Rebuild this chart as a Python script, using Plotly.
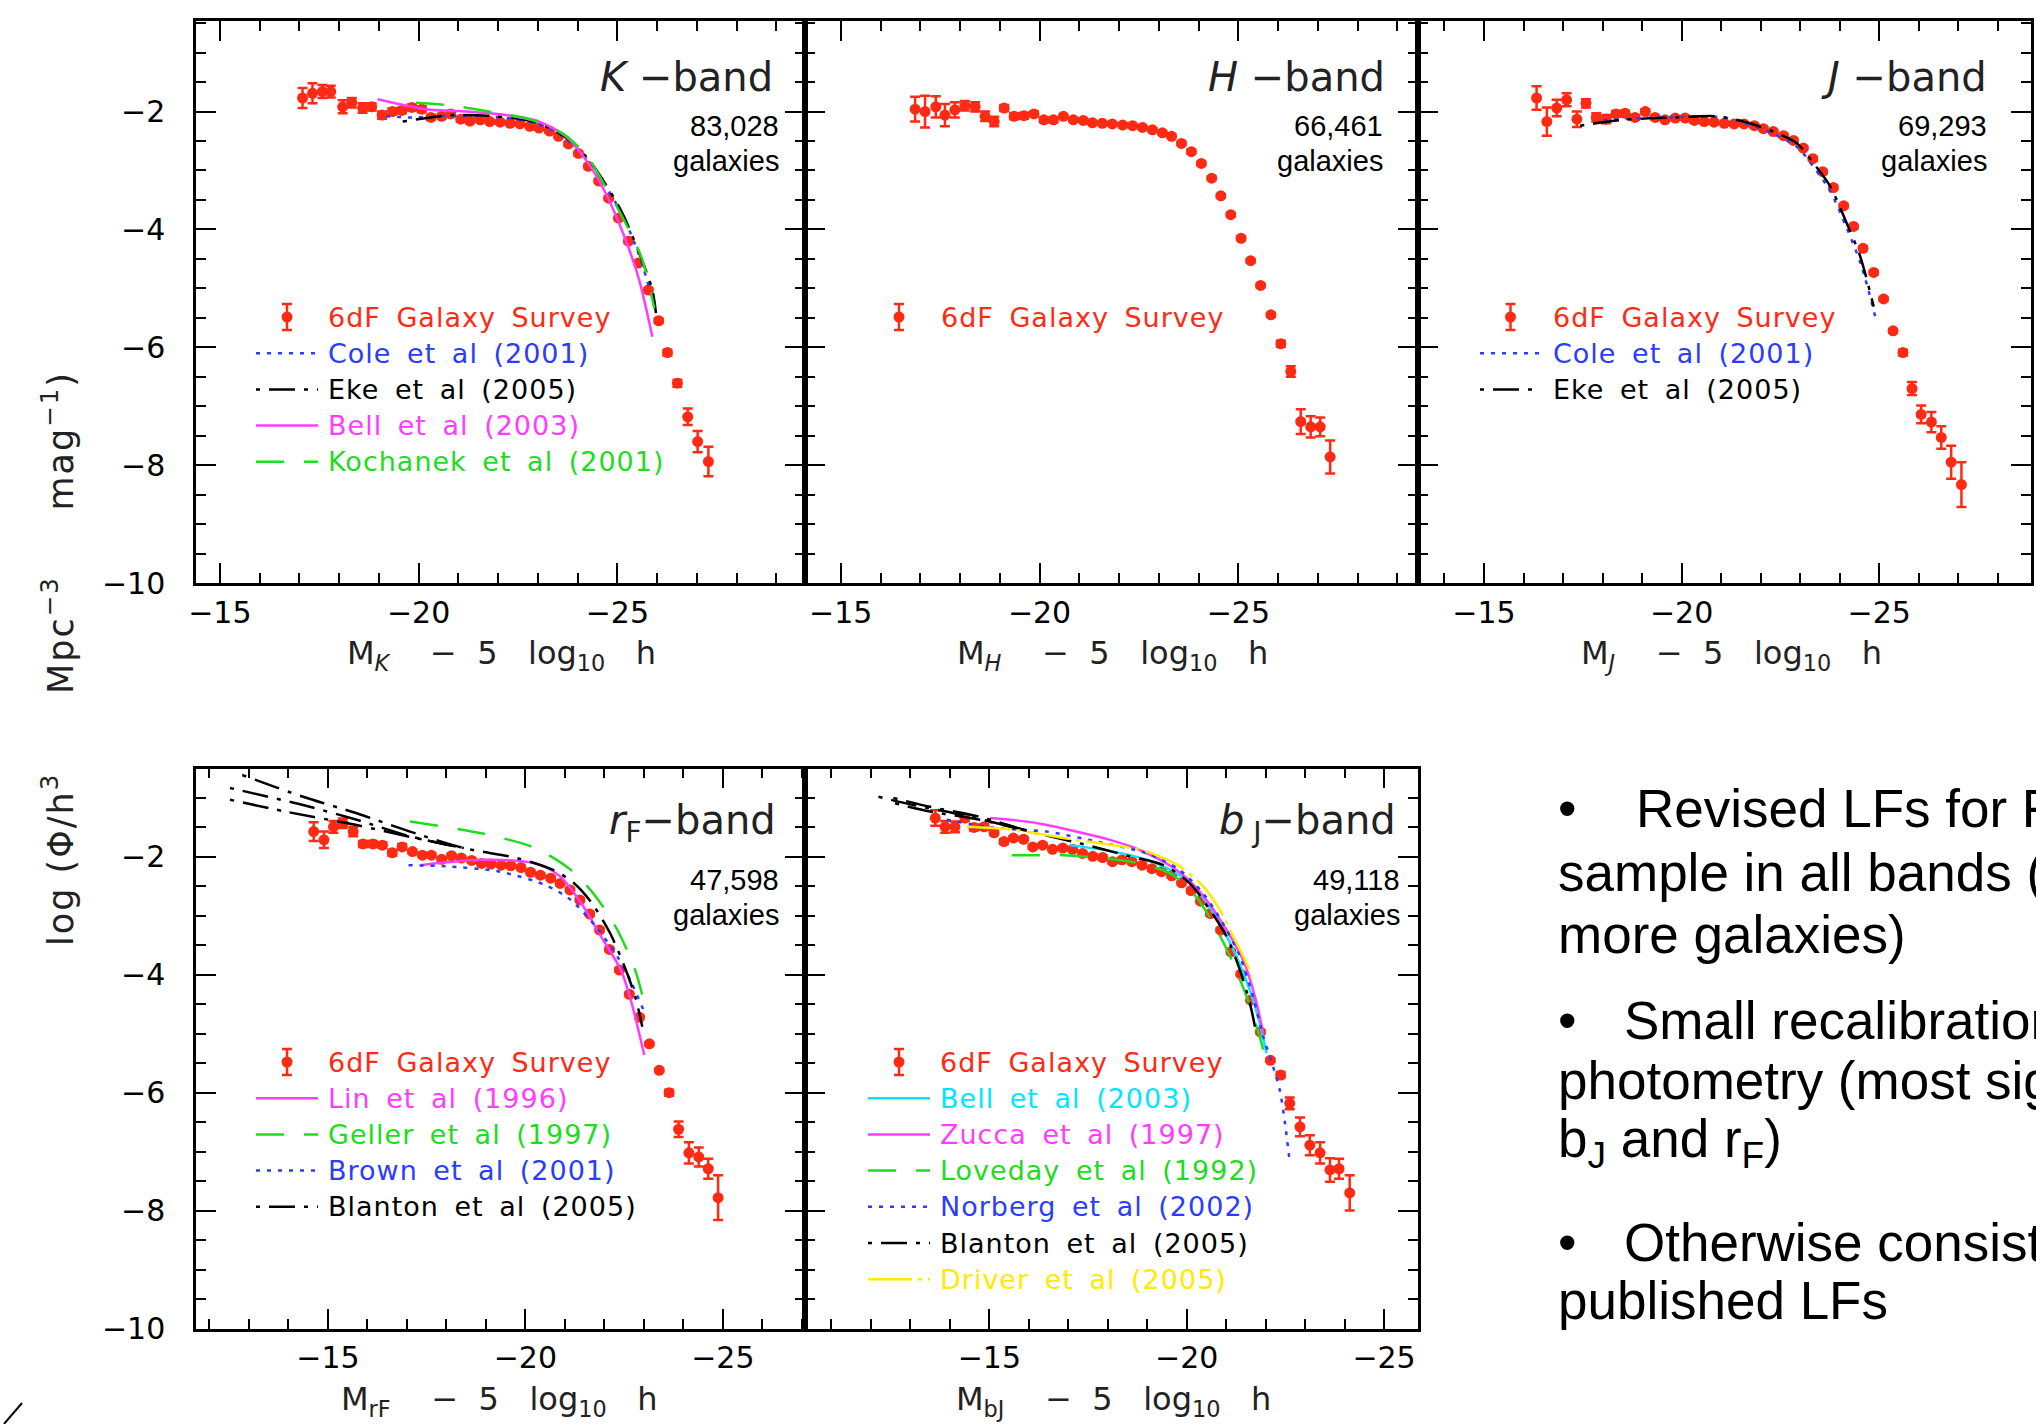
import plotly.graph_objects as go

W, H = 2036, 1424

RED = "#ff2a14"
BLUE = "#2a3cff"
MAGENTA = "#ff3cff"
GREEN = "#1edc1e"
CYAN = "#00e6ff"
YELLOW = "#ffea00"
BLACK = "#000000"

DOT = "4px,7px"
DASHDOT = "4px,9px,26px,9px"
LONGDASH = "28px,20px"
DASHDOTDOT = "44px,6px,4px,6px"
SOLID = "solid"

# ---------------- K band ----------------
K_MAG = [-17.08, -17.33, -17.58, -17.79, -18.09, -18.32, -18.59, -18.82, -19.08, -19.34,
         -19.58, -19.83, -20.08, -20.31, -20.58, -20.81, -21.06, -21.29, -21.55, -21.79,
         -22.05, -22.30, -22.55, -22.80, -23.03, -23.29, -23.52, -23.77, -24.02, -24.27,
         -24.53, -24.78, -25.03, -25.28, -25.53, -25.78, -26.04, -26.26, -26.51, -26.77,
         -27.02, -27.29]
K_LOGPHI = [-1.77, -1.69, -1.66, -1.66, -1.92, -1.85, -1.94, -1.92, -2.06, -2.00,
            -1.98, -1.93, -1.96, -2.10, -2.08, -2.04, -2.13, -2.16, -2.14, -2.17,
            -2.18, -2.20, -2.21, -2.25, -2.28, -2.33, -2.42, -2.55, -2.71, -2.93,
            -3.18, -3.47, -3.81, -4.20, -4.57, -5.03, -5.55, -6.09, -6.61, -7.18,
            -7.60, -7.94]
K_ERR = [0.17, 0.17, 0.11, 0.10, 0.11, 0.08, 0.08, 0.06, 0.06, 0.05,
         0.05, 0.05, 0.05, 0.04, 0.04, 0.04, 0.04, 0.04, 0.03, 0.03,
         0.03, 0.03, 0.03, 0.03, 0.03, 0.03, 0.03, 0.03, 0.03, 0.03,
         0.03, 0.03, 0.03, 0.03, 0.03, 0.03, 0.04, 0.05, 0.06, 0.14,
         0.18, 0.25]

K_COLE_MAG = [-19.18, -19.85, -20.8, -21.9, -22.85, -23.6, -24.2, -24.7, -25.13, -25.55, -25.95]
K_COLE_LOGPHI = [-2.08, -2.10, -2.07, -2.09, -2.18, -2.41, -2.78, -3.26, -3.76, -4.44, -5.35]
K_EKE_MAG = [-19.6, -20.85, -21.94, -22.87, -23.62, -24.21, -24.71, -25.13, -25.55, -25.88, -25.97]
K_EKE_LOGPHI = [-2.17, -2.06, -2.08, -2.17, -2.40, -2.76, -3.24, -3.73, -4.40, -5.03, -5.42]
K_BELL_MAG = [-18.97, -20.18, -21.19, -22.2, -23.03, -23.7, -24.21, -24.71, -25.21, -25.55, -25.88]
K_BELL_LOGPHI = [-1.79, -1.96, -2.00, -2.06, -2.17, -2.42, -2.82, -3.39, -4.18, -4.86, -5.82]
K_KOCH_MAG = [-19.93, -20.85, -21.94, -22.78, -23.62, -24.21, -24.71, -25.21, -25.63, -25.93]
K_KOCH_LOGPHI = [-1.85, -1.90, -2.02, -2.13, -2.37, -2.74, -3.28, -3.90, -4.52, -5.34]

# ---------------- H band ----------------
H_MAG = [-16.87, -17.12, -17.39, -17.62, -17.87, -18.12, -18.38, -18.63, -18.86, -19.11,
         -19.36, -19.61, -19.86, -20.11, -20.35, -20.60, -20.85, -21.10, -21.33, -21.58,
         -21.83, -22.09, -22.34, -22.59, -22.84, -23.09, -23.32, -23.57, -23.82, -24.07,
         -24.33, -24.56, -24.81, -25.07, -25.31, -25.56, -25.82, -26.07, -26.32, -26.57,
         -26.82, -27.06, -27.31]
H_LOGPHI = [-1.96, -2.00, -1.92, -2.06, -1.97, -1.90, -1.92, -2.08, -2.17, -1.94,
            -2.08, -2.07, -2.04, -2.14, -2.14, -2.08, -2.14, -2.15, -2.19, -2.20,
            -2.21, -2.23, -2.24, -2.27, -2.31, -2.36, -2.42, -2.54, -2.68, -2.88,
            -3.13, -3.43, -3.75, -4.15, -4.53, -4.95, -5.45, -5.94, -6.41, -7.26,
            -7.35, -7.35, -7.86]
H_ERR = [0.21, 0.27, 0.18, 0.19, 0.13, 0.08, 0.08, 0.08, 0.08, 0.05,
         0.05, 0.05, 0.04, 0.04, 0.04, 0.03, 0.03, 0.03, 0.03, 0.03,
         0.03, 0.03, 0.03, 0.03, 0.03, 0.03, 0.03, 0.03, 0.03, 0.03,
         0.03, 0.03, 0.03, 0.03, 0.03, 0.03, 0.03, 0.05, 0.09, 0.21,
         0.18, 0.16, 0.28]

# ---------------- J band ----------------
J_MAG = [-16.33, -16.59, -16.84, -17.09, -17.35, -17.58, -17.84, -18.09, -18.34, -18.57,
         -18.82, -19.08, -19.33, -19.58, -19.84, -20.09, -20.32, -20.57, -20.82, -21.08,
         -21.33, -21.58, -21.84, -22.07, -22.32, -22.58, -22.83, -23.08, -23.32, -23.57,
         -23.84, -24.10, -24.35, -24.59, -24.86, -25.11, -25.35, -25.60, -25.83, -26.06,
         -26.32, -26.57, -26.82, -27.08]
J_LOGPHI = [-1.77, -2.17, -1.94, -1.80, -2.13, -1.86, -2.10, -2.13, -2.04, -2.03,
            -2.10, -2.00, -2.10, -2.14, -2.11, -2.11, -2.15, -2.17, -2.18, -2.20,
            -2.21, -2.21, -2.24, -2.29, -2.34, -2.41, -2.49, -2.62, -2.80, -3.02,
            -3.29, -3.60, -3.95, -4.32, -4.73, -5.18, -5.72, -6.09, -6.70, -7.14,
            -7.27, -7.53, -7.95, -8.33]
J_ERR = [0.20, 0.24, 0.14, 0.11, 0.13, 0.07, 0.07, 0.07, 0.05, 0.05,
         0.04, 0.04, 0.03, 0.03, 0.03, 0.03, 0.03, 0.03, 0.03, 0.03,
         0.03, 0.03, 0.03, 0.03, 0.03, 0.03, 0.03, 0.03, 0.03, 0.03,
         0.03, 0.03, 0.03, 0.03, 0.03, 0.03, 0.03, 0.05, 0.11, 0.15,
         0.17, 0.19, 0.28, 0.38]

J_COLE_MAG = [-18.02, -19.0, -20.0, -20.9, -21.6, -22.32, -22.92, -23.34, -23.76, -24.18, -24.55, -24.94]
J_COLE_LOGPHI = [-2.15, -2.11, -2.09, -2.09, -2.19, -2.38, -2.60, -2.94, -3.35, -3.98, -4.62, -5.59]
J_EKE_MAG = [-17.43, -18.53, -19.79, -20.89, -21.56, -22.32, -22.92, -23.34, -23.76, -24.18, -24.52, -24.86]
J_EKE_LOGPHI = [-2.24, -2.14, -2.10, -2.08, -2.17, -2.34, -2.54, -2.88, -3.27, -3.90, -4.46, -5.31]

# ---------------- rF band ----------------
RF_MAG = [-14.64, -14.90, -15.14, -15.38, -15.64, -15.89, -16.14, -16.38, -16.63, -16.88,
          -17.14, -17.39, -17.62, -17.88, -18.13, -18.38, -18.64, -18.89, -19.13, -19.39,
          -19.63, -19.89, -20.13, -20.38, -20.64, -20.88, -21.13, -21.38, -21.63, -21.88,
          -22.13, -22.38, -22.63, -22.89, -23.14, -23.39, -23.64, -23.88, -24.14, -24.39,
          -24.63, -24.88]
RF_LOGPHI = [-1.57, -1.71, -1.49, -1.43, -1.57, -1.78, -1.78, -1.80, -1.93, -1.83,
             -1.91, -1.97, -1.97, -2.04, -1.98, -2.02, -2.06, -2.11, -2.12, -2.14,
             -2.15, -2.18, -2.26, -2.31, -2.36, -2.45, -2.56, -2.73, -2.97, -3.24,
             -3.57, -3.92, -4.33, -4.72, -5.17, -5.62, -6.00, -6.62, -7.02, -7.09,
             -7.29, -7.78]
RF_ERR = [0.16, 0.14, 0.10, 0.08, 0.08, 0.05, 0.05, 0.05, 0.05, 0.05,
          0.03, 0.03, 0.03, 0.03, 0.03, 0.03, 0.03, 0.03, 0.03, 0.03,
          0.03, 0.03, 0.03, 0.03, 0.03, 0.03, 0.03, 0.03, 0.03, 0.03,
          0.03, 0.03, 0.03, 0.03, 0.03, 0.03, 0.05, 0.13, 0.18, 0.16,
          0.17, 0.38]

RF_BLANTON_A_MAG = [-12.83, -14.37, -15.73, -17.08, -18.44, -19.79, -20.70, -21.24, -21.69, -22.15, -22.51, -22.78, -22.96]
RF_BLANTON_A_LOGPHI = [-0.61, -0.98, -1.26, -1.57, -1.85, -2.02, -2.22, -2.45, -2.79, -3.30, -3.86, -4.37, -4.88]
RF_BLANTON_B_MAG = [-12.52, -14.37, -15.73, -17.08, -18.44]
RF_BLANTON_B_LOGPHI = [-0.83, -1.12, -1.37, -1.65, -1.85]
RF_BLANTON_C_MAG = [-12.52, -13.92, -15.73, -17.08, -18.44]
RF_BLANTON_C_LOGPHI = [-1.03, -1.23, -1.46, -1.66, -1.85]
RF_GELLER_MAG = [-17.08, -18.89, -20.25, -21.15, -21.78, -22.33, -22.78, -23.01]
RF_GELLER_LOGPHI = [-1.40, -1.60, -1.85, -2.22, -2.67, -3.24, -3.92, -4.48]
RF_LIN_MAG = [-17.35, -18.89, -20.25, -20.88, -21.42, -21.97, -22.42, -22.69, -23.01]
RF_LIN_LOGPHI = [-2.14, -2.05, -2.11, -2.33, -2.79, -3.41, -3.92, -4.48, -5.36]
RF_BROWN_MAG = [-17.04, -17.99, -19.35, -20.52, -21.15, -21.78, -22.33, -22.69, -23.01]
RF_BROWN_LOGPHI = [-2.14, -2.16, -2.25, -2.48, -2.73, -3.18, -3.69, -4.14, -4.63]

# ---------------- bJ band ----------------
BJ_MAG = [-13.63, -13.88, -14.13, -14.38, -14.61, -14.87, -15.12, -15.37, -15.61, -15.87,
          -16.10, -16.35, -16.60, -16.86, -17.11, -17.36, -17.62, -17.87, -18.12, -18.36,
          -18.61, -18.87, -19.12, -19.36, -19.62, -19.87, -20.11, -20.35, -20.60, -20.86,
          -21.12, -21.37, -21.62, -21.87, -22.12, -22.38, -22.61, -22.87, -23.12, -23.38,
          -23.63, -23.86, -24.13]
BJ_LOGPHI = [-1.34, -1.49, -1.49, -1.34, -1.50, -1.49, -1.59, -1.74, -1.68, -1.70,
             -1.83, -1.80, -1.87, -1.85, -1.87, -1.94, -1.99, -2.01, -2.08, -2.05,
             -2.08, -2.14, -2.20, -2.25, -2.32, -2.44, -2.57, -2.75, -2.96, -3.24,
             -3.61, -3.99, -4.43, -4.97, -5.45, -5.70, -6.18, -6.58, -6.89, -7.02,
             -7.31, -7.29, -7.70]
BJ_ERR = [0.13, 0.10, 0.09, 0.05, 0.05, 0.05, 0.04, 0.04, 0.03, 0.03,
          0.03, 0.03, 0.03, 0.03, 0.03, 0.03, 0.03, 0.03, 0.03, 0.03,
          0.03, 0.03, 0.03, 0.03, 0.03, 0.03, 0.03, 0.03, 0.03, 0.03,
          0.03, 0.03, 0.03, 0.03, 0.03, 0.05, 0.10, 0.16, 0.17, 0.18,
          0.20, 0.17, 0.30]

BJ_BLANTON_A_MAG = [-12.57, -13.5, -14.76, -16.03, -17.3, -18.56, -19.41, -20.08, -20.59, -21.01, -21.35, -21.6, -21.73]
BJ_BLANTON_A_LOGPHI = [-1.00, -1.15, -1.32, -1.57, -1.77, -1.99, -2.14, -2.45, -2.90, -3.35, -3.92, -4.48, -4.88]
BJ_BLANTON_B_MAG = [-12.19, -13.08, -14.34, -16.03]
BJ_BLANTON_B_LOGPHI = [-0.98, -1.12, -1.29, -1.57]
BJ_BLANTON_C_MAG = [-12.61, -13.5, -14.76, -16.03]
BJ_BLANTON_C_LOGPHI = [-1.09, -1.23, -1.37, -1.57]
BJ_ZUCCA_MAG = [-15.02, -15.69, -16.33, -18.06, -18.65, -19.41, -20.0, -20.5, -21.01, -21.43, -21.73, -21.94]
BJ_ZUCCA_LOGPHI = [-1.34, -1.38, -1.44, -1.71, -1.84, -2.08, -2.36, -2.73, -3.24, -3.75, -4.37, -4.99]
BJ_BELL_MAG = [-17.04, -18.14, -18.99, -19.82, -20.33, -20.84, -21.26, -21.6, -21.85, -22.02]
BJ_BELL_LOGPHI = [-1.80, -1.91, -2.05, -2.31, -2.62, -3.13, -3.69, -4.26, -4.82, -5.33]
BJ_LOVEDAY_MAG = [-15.57, -16.28, -16.88, -17.72, -18.73, -19.58, -20.17, -20.68, -21.1, -21.52, -21.85, -21.98]
BJ_LOVEDAY_LOGPHI = [-1.97, -1.97, -1.97, -2.01, -2.10, -2.28, -2.62, -3.13, -3.69, -4.37, -5.05, -5.39]
BJ_NORBERG_MAG = [-13.92, -15.19, -16.45, -17.72, -18.99, -19.82, -20.42, -20.92, -21.35, -21.68, -21.94, -22.19, -22.36, -22.49, -22.61]
BJ_NORBERG_LOGPHI = [-1.37, -1.51, -1.57, -1.74, -1.94, -2.22, -2.62, -3.13, -3.69, -4.37, -5.05, -5.56, -5.96, -6.52, -7.17]
BJ_DRIVER_MAG = [-14.43, -15.61, -16.87, -18.14, -18.99, -19.82, -20.42, -20.84, -21.18, -21.48, -21.65]
BJ_DRIVER_LOGPHI = [-1.49, -1.54, -1.68, -1.80, -1.91, -2.16, -2.50, -2.90, -3.35, -3.75, -4.03]

# galaxy counts and band labels
BAND_LABELS = {"K": "<i>K</i> \u2212band", "H": "<i>H</i> \u2212band", "J": "<i>J</i> \u2212band",
               "rF": "<i>r</i><sub>F</sub>\u2212band", "bJ": "<i>b</i><sub> J</sub>\u2212band"}
GALAXY_COUNTS = {"K": "83,028", "H": "66,461", "J": "69,293", "rF": "47,598", "bJ": "49,118"}
NB = "&nbsp;"
TITLE_TAIL = NB * 2 + "5" + NB * 3 + "log<sub>10</sub>" + NB * 3 + "h"
X_TITLES = {
    "K": "M<sub><i>K</i></sub>" + NB * 4 + "\u2212" + TITLE_TAIL,
    "H": "M<sub><i>H</i></sub>" + NB * 4 + "\u2212" + TITLE_TAIL,
    "J": "M<sub><i>J</i></sub>" + NB * 4 + "\u2212" + TITLE_TAIL,
    "rF": "M<sub>rF</sub>" + NB * 4 + "\u2212" + TITLE_TAIL,
    "bJ": "M<sub>bJ</sub>" + NB * 4 + "\u2212" + TITLE_TAIL,
}
Y_TITLE = ("log (\u03a6/h<sup>3</sup>" + NB * 6 + "Mpc<sup>\u22123</sup>"
           + NB * 5 + "mag<sup>\u22121</sup>)")

BULLETS = [
    ["Revised LFs for F", "sample in all bands (", "more galaxies)"],
    ["Small recalibration", "photometry (most sig", "b<sub>J</sub> and r<sub>F</sub>)"],
    ["Otherwise consist", "published LFs"],
]

SURVEY = "6dF Galaxy Survey"


def xp(v):
    return v / W


def yp(v):
    return 1 - v / H


# panel geometry in pixels (x0, x1, y0, y1) and axis ranges
PANELS = {
    "K": dict(n="", box=(196, 805, 21.4, 583), xr=[-14.4, -29.72], yr=[-10, -0.47], ylab=True),
    "H": dict(n="2", box=(805, 1418, 21.4, 583), xr=[-14.1, -29.52], yr=[-10, -0.47], ylab=False),
    "J": dict(n="3", box=(1418, 2031, 21.4, 583), xr=[-13.33, -28.84], yr=[-10, -0.47], ylab=False),
    "rF": dict(n="4", box=(196, 805, 768.5, 1328.5), xr=[-11.66, -27.08], yr=[-10, -0.5], ylab=True),
    "bJ": dict(n="5", box=(805, 1418, 768.5, 1328.5), xr=[-10.33, -25.86], yr=[-10, -0.5], ylab=False),
}

DATA = {
    "K": (K_MAG, K_LOGPHI, K_ERR),
    "H": (H_MAG, H_LOGPHI, H_ERR),
    "J": (J_MAG, J_LOGPHI, J_ERR),
    "rF": (RF_MAG, RF_LOGPHI, RF_ERR),
    "bJ": (BJ_MAG, BJ_LOGPHI, BJ_ERR),
}

CURVES = {
    "K": [(K_COLE_MAG, K_COLE_LOGPHI, BLUE, DOT),
          (K_EKE_MAG, K_EKE_LOGPHI, BLACK, DASHDOT),
          (K_BELL_MAG, K_BELL_LOGPHI, MAGENTA, SOLID),
          (K_KOCH_MAG, K_KOCH_LOGPHI, GREEN, LONGDASH)],
    "H": [],
    "J": [(J_COLE_MAG, J_COLE_LOGPHI, BLUE, DOT),
          (J_EKE_MAG, J_EKE_LOGPHI, BLACK, DASHDOT)],
    "rF": [(RF_LIN_MAG, RF_LIN_LOGPHI, MAGENTA, SOLID),
           (RF_GELLER_MAG, RF_GELLER_LOGPHI, GREEN, LONGDASH),
           (RF_BROWN_MAG, RF_BROWN_LOGPHI, BLUE, DOT),
           (RF_BLANTON_A_MAG, RF_BLANTON_A_LOGPHI, BLACK, DASHDOT),
           (RF_BLANTON_B_MAG, RF_BLANTON_B_LOGPHI, BLACK, DASHDOT),
           (RF_BLANTON_C_MAG, RF_BLANTON_C_LOGPHI, BLACK, DASHDOT)],
    "bJ": [(BJ_BELL_MAG, BJ_BELL_LOGPHI, CYAN, SOLID),
           (BJ_ZUCCA_MAG, BJ_ZUCCA_LOGPHI, MAGENTA, SOLID),
           (BJ_LOVEDAY_MAG, BJ_LOVEDAY_LOGPHI, GREEN, LONGDASH),
           (BJ_NORBERG_MAG, BJ_NORBERG_LOGPHI, BLUE, DOT),
           (BJ_BLANTON_A_MAG, BJ_BLANTON_A_LOGPHI, BLACK, DASHDOT),
           (BJ_BLANTON_B_MAG, BJ_BLANTON_B_LOGPHI, BLACK, DASHDOT),
           (BJ_BLANTON_C_MAG, BJ_BLANTON_C_LOGPHI, BLACK, DASHDOT),
           (BJ_DRIVER_MAG, BJ_DRIVER_LOGPHI, YELLOW, DASHDOTDOT)],
}

# legend entries: (label, colour, dash or None for the survey points)
LEGENDS = {
    "K": dict(sx=(256, 318), tx=326, y0=317, entries=[
        (SURVEY, RED, None), ("Cole et al (2001)", BLUE, DOT), ("Eke et al (2005)", BLACK, DASHDOT),
        ("Bell et al (2003)", MAGENTA, SOLID), ("Kochanek et al (2001)", GREEN, LONGDASH)]),
    "H": dict(sx=(868, 930), tx=939, y0=317, entries=[(SURVEY, RED, None)]),
    "J": dict(sx=(1480, 1541), tx=1551, y0=317, entries=[
        (SURVEY, RED, None), ("Cole et al (2001)", BLUE, DOT), ("Eke et al (2005)", BLACK, DASHDOT)]),
    "rF": dict(sx=(256, 318), tx=326, y0=1062, entries=[
        (SURVEY, RED, None), ("Lin et al (1996)", MAGENTA, SOLID), ("Geller et al (1997)", GREEN, LONGDASH),
        ("Brown et al (2001)", BLUE, DOT), ("Blanton et al (2005)", BLACK, DASHDOT)]),
    "bJ": dict(sx=(868, 930), tx=938, y0=1062, entries=[
        (SURVEY, RED, None), ("Bell et al (2003)", CYAN, SOLID), ("Zucca et al (1997)", MAGENTA, SOLID),
        ("Loveday et al (1992)", GREEN, LONGDASH), ("Norberg et al (2002)", BLUE, DOT),
        ("Blanton et al (2005)", BLACK, DASHDOT), ("Driver et al (2005)", YELLOW, DASHDOTDOT)]),
}
LEGEND_STEP = 36.2

# label anchor positions (px): band label right edge, count right edge, title centre
LABEL_POS = {
    "K": dict(bx=775, by=77, cx=781, cy=126, gy=161, tx=501, ty=655),
    "H": dict(bx=1387, by=77, cx=1385, cy=126, gy=161, tx=1112, ty=655),
    "J": dict(bx=1989, by=77, cx=1989, cy=126, gy=161, tx=1731, ty=655),
    "rF": dict(bx=778, by=823, cx=781, cy=880, gy=915, tx=499, ty=1401),
    "bJ": dict(bx=1398, by=823, cx=1402, cy=880, gy=915, tx=1113, ty=1401),
}

TICKFONT = dict(family="DejaVu Sans", size=30, color="black")
IDL_FONT = "DejaVu Sans"
ARIAL = "Liberation Sans, Arial, sans-serif"
LEGEND_STYLE = "letter-spacing:1px;word-spacing:6px"

fig = go.Figure()
layout = dict(width=W, height=H, margin=dict(l=0, r=0, t=0, b=0, pad=0), autosize=False,
              paper_bgcolor="white", plot_bgcolor="white", showlegend=False)
shapes = []
annotations = []

for key, p in PANELS.items():
    n = p["n"]
    x0, x1, y0, y1 = p["box"]
    xa, ya = "x" + n, "y" + n
    layout["xaxis" + n] = dict(
        domain=[xp(x0), xp(x1)], range=p["xr"], anchor=ya, automargin=False,
        showline=True, linecolor="black", linewidth=2.5, mirror="ticks",
        ticks="inside", ticklen=20, tickwidth=2, tickcolor="black",
        tickmode="linear", tick0=0, dtick=5, ticklabelstandoff=1,
        minor=dict(ticks="inside", ticklen=10, tickwidth=2, tickcolor="black", tick0=0, dtick=1),
        showgrid=False, zeroline=False, tickfont=TICKFONT,
    )
    layout["yaxis" + n] = dict(
        domain=[yp(y1), yp(y0)], range=p["yr"], anchor=xa, automargin=False,
        showline=True, linecolor="black", linewidth=2.5, mirror="ticks",
        ticks="inside", ticklen=20, tickwidth=2, tickcolor="black",
        tickmode="linear", tick0=0, dtick=2, ticklabelstandoff=22,
        minor=dict(ticks="inside", ticklen=10, tickwidth=2, tickcolor="black", tick0=0, dtick=0.5),
        showgrid=False, zeroline=False, tickfont=TICKFONT, showticklabels=p["ylab"],
    )

    mag, logphi, err = DATA[key]
    fig.add_trace(go.Scatter(
        x=mag, y=logphi, mode="markers", xaxis=xa, yaxis=ya,
        marker=dict(color=RED, size=11, line=dict(width=0)),
        error_y=dict(type="data", array=err, color=RED, thickness=2.5, width=5),
    ))
    for cm, cl, col, dash in CURVES[key]:
        fig.add_trace(go.Scatter(
            x=cm, y=cl, mode="lines", xaxis=xa, yaxis=ya,
            line=dict(color=col, width=2.5, dash=dash, shape="spline", smoothing=0.8),
        ))

    # legend
    lg = LEGENDS[key]
    sx0, sx1 = lg["sx"]
    mx = (sx0 + sx1) / 2
    for i, (label, col, dash) in enumerate(lg["entries"]):
        yy = lg["y0"] + i * LEGEND_STEP
        if dash is None:
            shapes.append(dict(type="circle", xref="paper", yref="paper",
                               x0=xp(mx - 5.5), x1=xp(mx + 5.5), y0=yp(yy + 5.5), y1=yp(yy - 5.5),
                               fillcolor=RED, line=dict(color=RED, width=0)))
            shapes.append(dict(type="line", xref="paper", yref="paper",
                               x0=xp(mx), x1=xp(mx), y0=yp(yy + 13), y1=yp(yy - 13),
                               line=dict(color=RED, width=2.5)))
            for cy in (yy - 13, yy + 13):
                shapes.append(dict(type="line", xref="paper", yref="paper",
                                   x0=xp(mx - 5), x1=xp(mx + 5), y0=yp(cy), y1=yp(cy),
                                   line=dict(color=RED, width=2.5)))
        else:
            shapes.append(dict(type="line", xref="paper", yref="paper",
                               x0=xp(sx0), x1=xp(sx1), y0=yp(yy), y1=yp(yy),
                               line=dict(color=col, width=2.5, dash=dash)))
        annotations.append(dict(
            text='<span style="' + LEGEND_STYLE + '">' + label + "</span>",
            xref="paper", yref="paper", x=xp(lg["tx"]), y=yp(yy),
            xanchor="left", yanchor="middle", showarrow=False,
            font=dict(family=IDL_FONT, size=27, color=col)))

    # band label, galaxy count and axis title
    lp = LABEL_POS[key]
    annotations.append(dict(text=BAND_LABELS[key], xref="paper", yref="paper",
                            x=xp(lp["bx"]), y=yp(lp["by"]), xanchor="right", yanchor="middle",
                            showarrow=False, font=dict(family=IDL_FONT, size=40, color="#222222")))
    annotations.append(dict(text=GALAXY_COUNTS[key], xref="paper", yref="paper",
                            x=xp(lp["cx"]), y=yp(lp["cy"]), xanchor="right", yanchor="middle",
                            showarrow=False, font=dict(family=ARIAL, size=29, color="black")))
    annotations.append(dict(text="galaxies", xref="paper", yref="paper",
                            x=xp(lp["cx"]), y=yp(lp["gy"]), xanchor="right", yanchor="middle",
                            showarrow=False, font=dict(family=ARIAL, size=29, color="black")))
    annotations.append(dict(text=X_TITLES[key], xref="paper", yref="paper",
                            x=xp(lp["tx"]), y=yp(lp["ty"]), xanchor="center", yanchor="middle",
                            showarrow=False, font=dict(family=IDL_FONT, size=32, color="#222222")))

# shared y-axis title
annotations.append(dict(text='<span style="letter-spacing:2px">' + Y_TITLE + "</span>",
                        xref="paper", yref="paper", x=xp(58), y=yp(659), textangle=-90,
                        xanchor="center", yanchor="middle", showarrow=False,
                        font=dict(family=IDL_FONT, size=35, color="#222222")))

# bullet text on the right
BULLET_Y = [[808, 872, 934], [1020, 1080, 1142], [1242, 1300]]
FIRST_X = [1634, 1622, 1622]
for lines, ys, fx in zip(BULLETS, BULLET_Y, FIRST_X):
    annotations.append(dict(text="\u2022", xref="paper", yref="paper", x=xp(1556), y=yp(ys[0]),
                            xanchor="left", yanchor="middle", showarrow=False,
                            font=dict(family=ARIAL, size=53, color="black")))
    for j, (line, yy) in enumerate(zip(lines, ys)):
        annotations.append(dict(text=line, xref="paper", yref="paper",
                                x=xp(fx if j == 0 else 1556), y=yp(yy),
                                xanchor="left", yanchor="middle", showarrow=False,
                                font=dict(family=ARIAL, size=53, color="black")))

# small stroke in the lower-left corner
shapes.append(dict(type="line", xref="paper", yref="paper", x0=xp(4), y0=yp(1424),
                   x1=xp(22), y1=yp(1403), line=dict(color="black", width=2)))

layout["shapes"] = shapes
layout["annotations"] = annotations
fig.update_layout(**layout)
fig.write_html("out.html")
